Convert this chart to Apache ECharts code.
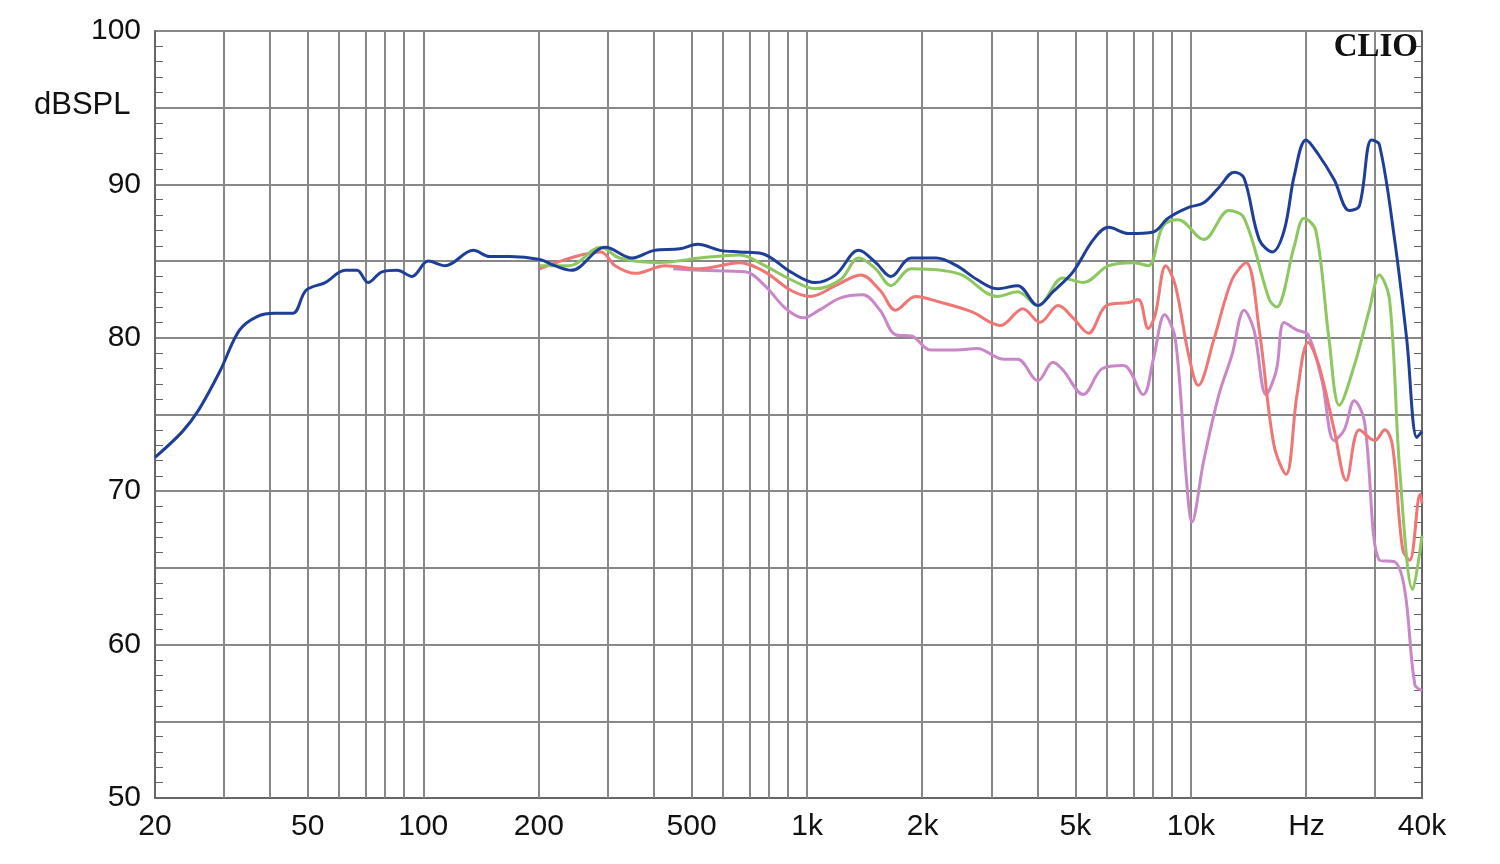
<!DOCTYPE html>
<html><head><meta charset="utf-8">
<script src="https://cdn.jsdelivr.net/npm/echarts@6/dist/echarts.min.js"></script>
<style>html,body{margin:0;padding:0;background:#fff}#c{width:1500px;height:864px}</style>
</head><body><div id="c"></div>
<script>
const blueF=[20,23.6,26,29.5,33.2,37,41,45.7,49.5,55.5,62.6,67.2,71.8,78.1,85.5,93.4,103,114,135,149,168,201,220,243,298,350,400,466,519,593,668,762,906,1050,1186,1363,1509,1653,1866,2170,2453,2771,3130,3537,3993,4370,4930,5570,6100,6880,7980,8720,9860,10800,11830,12960,13760,15070,16300,17500,18600,19950,21550,23620,25850,27470,29530,30970,33940,36500,38780,40000];
const blueV=[72.2,73.9,75.3,77.8,80.5,81.4,81.6,81.6,83.1,83.6,84.4,84.4,83.6,84.3,84.4,84.0,85.0,84.7,85.7,85.3,85.3,85.1,84.7,84.4,85.9,85.2,85.7,85.8,86.1,85.7,85.6,85.5,84.3,83.6,84.1,85.7,84.9,84.0,85.2,85.2,84.7,83.8,83.2,83.4,82.1,83.0,84.3,86.4,87.2,86.8,86.9,87.8,88.5,88.8,89.8,90.8,90.4,86.4,85.6,87.0,90.6,92.9,91.9,90.3,88.3,88.6,92.9,92.6,86.4,79.9,73.5,73.9];
const greenF=[201,240,290,325,412,525,668,776,906,1050,1223,1363,1509,1653,1866,2236,2530,3130,3537,3993,4640,5240,6100,7090,7740,8460,9270,10800,12560,13760,16000,16700,18600,19710,21150,22900,24360,26650,29150,30970,32920,34990,37820,40000];
const greenV=[84.7,84.7,85.9,85.2,84.9,85.2,85.4,84.7,83.8,83.2,83.8,85.2,84.5,83.4,84.5,84.4,84.1,82.7,83.0,82.1,83.9,83.6,84.7,84.9,84.7,87.3,87.7,86.4,88.3,87.8,82.5,82.0,86.0,87.8,87.0,79.9,75.6,78.2,81.8,84.1,82.5,71.4,63.6,67.1];
const redF=[201,290,316,357,427,525,668,776,906,1020,1186,1380,1549,1700,1916,2236,2680,3190,3650,4040,4510,4930,5410,6020,6880,7300,7740,8070,8600,9110,9860,10450,11480,12800,13930,15070,16460,17700,18900,20200,21550,23620,25390,27470,30110,32000,33500,35620,37150,39550,40000];
const redV=[84.5,85.6,84.7,84.2,84.7,84.5,84.9,84.3,83.1,82.7,83.4,84.1,83.1,81.8,82.7,82.3,81.7,80.8,81.9,81.0,82.1,81.3,80.3,82.1,82.3,82.5,80.6,81.5,84.7,83.4,78.9,76.9,79.9,83.8,84.9,80.5,73.0,71.1,76.3,79.7,78.2,74.0,70.7,74.0,73.3,74.0,73.0,66.2,65.5,69.8,69.2];
const purpleF=[448,525,690,776,880,977,1074,1223,1396,1549,1700,1877,2100,2453,2771,3260,3537,3993,4370,4640,5240,5880,6670,7510,7980,8540,9110,9740,10060,10800,11830,12800,13760,14600,15700,16700,17500,18900,20200,21950,23620,25090,26650,28300,30970,33940,36050,38320,40000];
const purpleV=[84.5,84.4,84.3,83.4,81.9,81.3,81.8,82.6,82.8,81.8,80.2,80.1,79.2,79.2,79.3,78.6,78.6,77.2,78.4,77.9,76.3,78.0,78.2,76.3,78.6,81.5,79.9,70.7,68.0,72.0,76.3,78.9,81.8,80.5,76.3,77.9,81.0,80.5,80.2,77.2,73.3,74.0,75.9,74.6,65.5,65.4,63.6,57.4,57.0];
const gridFreqs=[30,40,50,60,70,80,90,100,200,300,400,500,600,700,800,900,1000,2000,3000,4000,5000,6000,7000,8000,9000,10000,20000,30000];
const tickFreqs=[20,50,100,200,500,1000,2000,5000,10000,20000,40000];
const tickNames=['20','50','100','200','500','1k','2k','5k','10k','Hz','40k'];

const L=Math.log10;
const pts=(F,V)=>F.map((f,i)=>[L(f),V[i]]);
const mk=(name,F,V,color)=>({name,type:'line',data:pts(F,V),showSymbol:false,smooth:0.35,lineStyle:{color,width:3},itemStyle:{color},z:5,silent:true});
const chart=echarts.init(document.getElementById('c'));
const lab={fontFamily:'Liberation Sans, Arial',fontSize:30,color:'#111'};
chart.setOption({
  animation:false,
  grid:{left:155,right:78,top:31,bottom:66},
  xAxis:{type:'value',min:L(20),max:L(40000),
    axisLine:{show:true,lineStyle:{color:'#666',width:2}},
    axisTick:{show:false},splitLine:{show:false},
    axisLabel:{...lab,margin:14,customValues:tickFreqs.map(L),
      formatter:v=>{let i=tickFreqs.findIndex(f=>Math.abs(L(f)-v)<1e-6);return i>=0?tickNames[i]:'';}}},
  yAxis:[{type:'value',min:50,max:100,interval:5,
    axisLine:{show:true,lineStyle:{color:'#666',width:2}},
    axisTick:{show:false},
    minorTick:{show:true,splitNumber:5,length:-8,lineStyle:{color:'#666'}},
    splitLine:{lineStyle:{color:'#888',width:2}},
    axisLabel:{...lab,margin:14,formatter:v=>v%10===0?String(v):''}},
   {type:'value',min:50,max:100,interval:5,position:'right',
    axisLine:{show:true,lineStyle:{color:'#666',width:2}},axisTick:{show:false},
    minorTick:{show:true,splitNumber:5,length:-8,lineStyle:{color:'#666'}},
    splitLine:{show:false},axisLabel:{show:false}}],
  graphic:[
    {type:'text',left:34,top:90,style:{text:'dBSPL',font:'31px "Liberation Sans", Arial',fill:'#111'}},
    {type:'text',right:82,top:31,z:10,style:{text:'CLIO',font:'bold 33px "Liberation Serif", "DejaVu Serif", serif',fill:'#111'}}
  ],
  series:[
    {type:'line',data:[],silent:true,markLine:{silent:true,symbol:'none',label:{show:false},
      lineStyle:{color:'#888',width:2,type:'solid'},data:gridFreqs.map(f=>({xAxis:L(f)}))}},
    mk('purple',purpleF,purpleV,'#c987c8'),
    mk('red',redF,redV,'#f07575'),
    mk('green',greenF,greenV,'#8cc75f'),
    mk('blue',blueF,blueV,'#1f3e98')
  ]
});
</script></body></html>
